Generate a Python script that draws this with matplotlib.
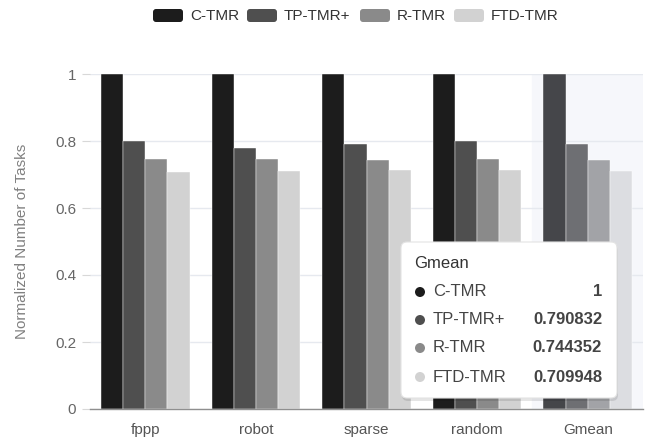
import matplotlib.pyplot as plt
import numpy as np
from matplotlib.patches import FancyBboxPatch, Circle
from matplotlib.transforms import IdentityTransform

plt.rcParams["font.family"] = ["Liberation Sans", "DejaVu Sans"]

categories = ["fppp", "robot", "sparse", "random", "Gmean"]
series = ["C-TMR", "TP-TMR+", "R-TMR", "FTD-TMR"]
c_tmr = [1.0, 1.0, 1.0, 1.0, 1.0]
tp_tmr = [0.80, 0.78, 0.79, 0.80, 0.790832]
r_tmr = [0.745, 0.745, 0.743, 0.745, 0.744352]
ftd_tmr = [0.707, 0.71, 0.712, 0.712, 0.709948]
values = [c_tmr, tp_tmr, r_tmr, ftd_tmr]

colors = ["#1c1c1c", "#4f4f4f", "#8a8a8a", "#d2d2d2"]
hover_colors = ["#45464a", "#6e6f73", "#a2a3a7", "#dcdde1"]
hover_idx = 4

W, H = 656, 443
fig = plt.figure(figsize=(W / 100, H / 100), dpi=100)
ax = fig.add_axes([90 / W, (H - 409) / H, 553 / W, 335 / H])

x = np.arange(len(categories))
width = 0.2
ax.axvspan(hover_idx - 0.5, hover_idx + 0.5, color="#f6f7fb", zorder=0)

for i, vals in enumerate(values):
    cols = [hover_colors[i] if k == hover_idx else colors[i] for k in range(len(categories))]
    ax.bar(x + (i - 1.5) * width, vals, width, color=cols,
           edgecolor="white", linewidth=0.3, zorder=2)

ax.set_xlim(-0.5, len(categories) - 0.5)
ax.set_ylim(0, 1)
ax.set_yticks([0, 0.2, 0.4, 0.6, 0.8, 1])
ax.set_yticklabels(["0", "0.2", "0.4", "0.6", "0.8", "1"])
ax.set_xticks(x)
ax.set_xticklabels(categories)
ax.grid(axis="y", color="#e6e9ef", linewidth=1, zorder=1)
ax.set_axisbelow(True)
for s in ["top", "right", "left"]:
    ax.spines[s].set_visible(False)
ax.spines["bottom"].set_color("#8f8f8f")
ax.spines["bottom"].set_linewidth(1)
ax.spines["bottom"].set_zorder(3)
ax.tick_params(axis="y", length=6, color="#d8d8d8", labelsize=11,
               labelcolor="#666666", pad=4)
ax.tick_params(axis="x", length=0, labelsize=11, labelcolor="#555555", pad=10)
ax.set_ylabel("Normalized Number of Tasks", fontsize=11, color="#808080",
              labelpad=19)

# legend on top
ident = IdentityTransform()
legend_x = [153, 247, 360, 454]
for lx, name, col in zip(legend_x, series, colors):
    fig.patches.append(FancyBboxPatch((lx + 3, H - 22 + 3), 24, 7,
                                      boxstyle="round,pad=3",
                                      transform=ident, facecolor=col,
                                      edgecolor="none"))
    fig.text((lx + 37) / W, (H - 16) / H, name, fontsize=11, color="#333333",
             va="center", ha="left")

# tooltip for the hovered category
bx0, by0, bx1, by1 = 401, 242, 617, 398
fig.patches.append(FancyBboxPatch((bx0 + 6 + 1, H - by1 + 6 - 3), bx1 - bx0 - 12,
                                  by1 - by0 - 12, boxstyle="round,pad=6",
                                  transform=ident, facecolor="#000000",
                                  alpha=0.10, edgecolor="none", zorder=9))
fig.patches.append(FancyBboxPatch((bx0 + 6, H - by1 + 6), bx1 - bx0 - 12,
                                  by1 - by0 - 12, boxstyle="round,pad=6",
                                  transform=ident, facecolor="white",
                                  edgecolor="#e3e3e3", linewidth=0.8, zorder=10))
fig.text(414 / W, (H - 263) / H, categories[hover_idx], fontsize=12,
         color="#333333", va="center", ha="left", zorder=11)
row_y = [292, 320, 348, 377]
for ry, name, vals, col in zip(row_y, series, values, colors):
    fig.patches.append(Circle((420, H - ry), 5, transform=ident,
                              facecolor=col, edgecolor="none", zorder=11))
    fig.text(433 / W, (H - ry) / H, name, fontsize=12, color="#444444",
             va="center", ha="left", zorder=11)
    v = vals[hover_idx]
    fig.text(602 / W, (H - ry) / H, f"{v:g}", fontsize=12, color="#444444",
             fontweight="bold", va="center", ha="right", zorder=11)

fig.savefig("out.png", dpi=100)
